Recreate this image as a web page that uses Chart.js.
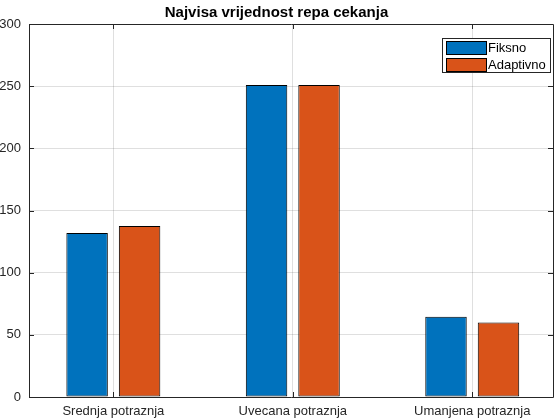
<!DOCTYPE html>
<html>
<head>
<meta charset="utf-8">
<script src="https://cdn.jsdelivr.net/npm/chart.js@4"></script>
<style>
  html, body { margin: 0; padding: 0; background: #fff; }
  #wrap { width: 560px; height: 420px; }
</style>
</head>
<body>
<div id="wrap"><canvas id="chart" width="560" height="420"></canvas></div>
<script>
// data
const categories = ['Srednja potraznja', 'Uvecana potraznja', 'Umanjena potraznja']
const fiksno = [132, 251, 64.5]
const adaptivno = [137.5, 251, 60]
const seriesNames = ['Fiksno', 'Adaptivno']
const yTicks = [0, 50, 100, 150, 200, 250, 300]

const FONT = 'Liberation Sans, Arial, Helvetica, sans-serif'
const AXIS = '#262626'

function toPoints(values) {
  return values.map(function(v, i) {
    return { x: i + 1, y: v }
  })
}

// box around the axes plus the small inward ticks, like matlab does
const boxPlugin = {
  id: 'box',
  afterDatasetsDraw(chart) {
    const ctx = chart.ctx
    const a = chart.chartArea
    const xs = chart.scales.x
    const ys = chart.scales.y
    ctx.save()
    ctx.strokeStyle = AXIS
    ctx.lineWidth = 1
    ctx.beginPath()
    ctx.rect(Math.round(a.left) + 0.5, Math.round(a.top) + 0.5,
      Math.round(a.right - a.left), Math.round(a.bottom - a.top))
    ctx.stroke()
    ctx.beginPath()
    yTicks.forEach(function(t) {
      const py = Math.round(ys.getPixelForValue(t)) + 0.5
      ctx.moveTo(a.left, py); ctx.lineTo(a.left + 5, py)
      ctx.moveTo(a.right, py); ctx.lineTo(a.right - 5, py)
    })
    categories.forEach(function(c, i) {
      const px = Math.round(xs.getPixelForValue(i + 1)) + 0.5
      ctx.moveTo(px, a.bottom); ctx.lineTo(px, a.bottom - 5)
      ctx.moveTo(px, a.top); ctx.lineTo(px, a.top + 5)
    })
    ctx.stroke()

    // legend box, top right inside the axes
    const lx = a.right - 111, ly = a.top + 14
    const lw = 108, lh = 34
    ctx.fillStyle = '#fff'
    ctx.fillRect(lx, ly, lw, lh)
    ctx.strokeRect(lx + 0.5, ly + 0.5, lw, lh)
    ctx.font = '13px ' + FONT
    ctx.textBaseline = 'middle'
    chart.data.datasets.forEach(function(ds, i) {
      const ry = ly + 3 + i * 17
      ctx.fillStyle = ds.backgroundColor
      ctx.fillRect(lx + 4, ry, 40, 13)
      ctx.strokeStyle = '#000'
      ctx.strokeRect(lx + 4.5, ry + 0.5, 40, 13)
      ctx.fillStyle = '#000'
      ctx.fillText(ds.label, lx + 46, ry + 7)
    })
    ctx.restore()
  }
}

const ctx = document.getElementById('chart')
const chart = new Chart(ctx, {
  type: 'bar',
  data: {
    datasets: [
      {
        label: seriesNames[0],
        data: toPoints(fiksno),
        backgroundColor: '#0072BD',
        borderColor: '#000',
        borderWidth: 1,
        borderSkipped: false
      },
      {
        label: seriesNames[1],
        data: toPoints(adaptivno),
        backgroundColor: '#D95319',
        borderColor: '#000',
        borderWidth: 1,
        borderSkipped: false
      }
    ]
  },
  options: {
    responsive: false,
    animation: false,
    categoryPercentage: 0.585,
    barPercentage: 0.79,
    layout: { padding: { left: 0, right: 7, top: 0, bottom: 0 } },
    plugins: {
      legend: { display: false },
      tooltip: { enabled: false },
      title: {
        display: true,
        text: 'Najvisa vrijednost repa cekanja',
        color: '#000',
        font: { family: FONT, size: 15, weight: 'bold' },
        padding: { top: 4, bottom: 2 }
      }
    },
    scales: {
      x: {
        type: 'linear',
        min: 0.53,
        max: 3.45,
        offset: false,
        afterBuildTicks: function(scale) {
          scale.ticks = categories.map(function(c, i) { return { value: i + 1 } })
        },
        afterFit: function(scale) { scale.height = 23 },
        ticks: {
          color: AXIS,
          font: { family: FONT, size: 13 },
          padding: 7,
          maxRotation: 0,
          autoSkip: false,
          callback: function(v) { return categories[v - 1] }
        },
        grid: { color: 'rgba(38,38,38,0.15)', drawTicks: false, offset: false },
        border: { display: false }
      },
      y: {
        min: 0,
        max: 300,
        afterBuildTicks: function(scale) {
          scale.ticks = yTicks.map(function(v) { return { value: v } })
        },
        afterFit: function(scale) { scale.width = 29 },
        ticks: {
          color: AXIS,
          font: { family: FONT, size: 13 },
          padding: 8
        },
        grid: { color: 'rgba(38,38,38,0.15)', drawTicks: false },
        border: { display: false }
      }
    }
  },
  plugins: [boxPlugin]
})
</script>
</body>
</html>
